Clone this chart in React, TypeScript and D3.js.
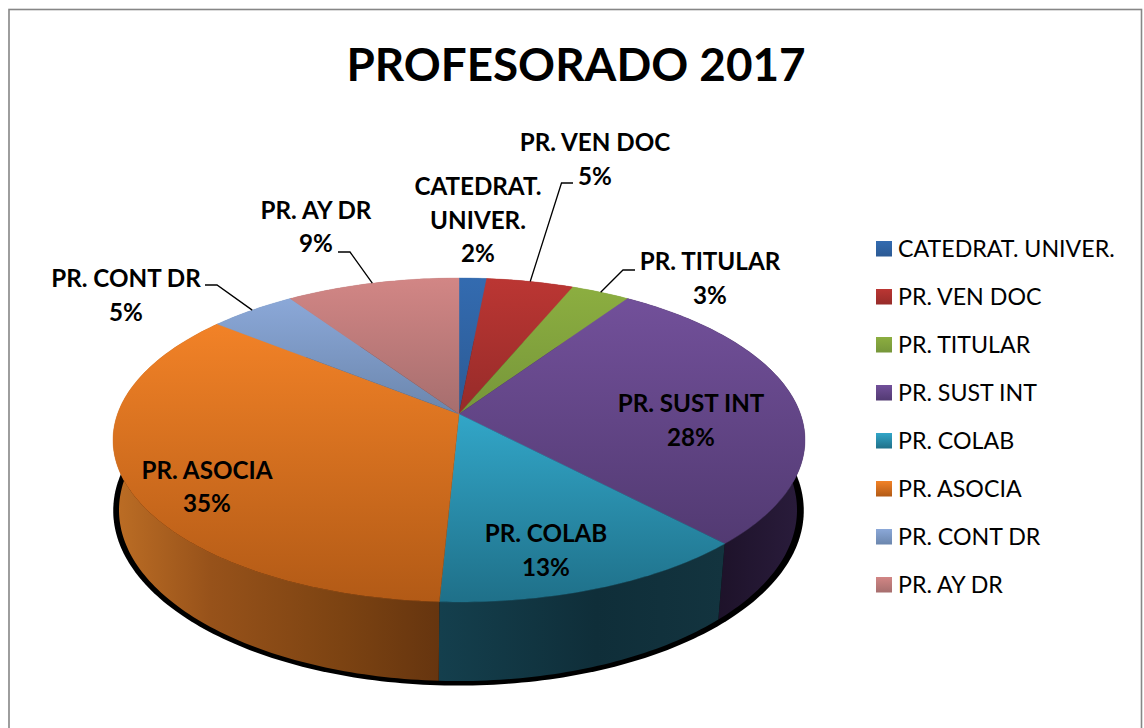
import React from "react";
import * as d3 from "d3";

const titleText = "PROFESORADO 2017";
const categories = ["CATEDRAT. UNIVER.", "PR. VEN DOC", "PR. TITULAR", "PR. SUST INT", "PR. COLAB", "PR. ASOCIA", "PR. CONT DR", "PR. AY DR"];
const values = [1.5, 4.75, 3.2, 28.49, 12.83, 35.02, 4.75, 9.46];
const percents = ["2%", "5%", "3%", "28%", "13%", "35%", "5%", "9%"];
const labelLines = [["CATEDRAT.", "UNIVER."], ["PR. VEN DOC"], ["PR. TITULAR"], ["PR. SUST INT"], ["PR. COLAB"], ["PR. ASOCIA"], ["PR. CONT DR"], ["PR. AY DR"]];
const topFrom = ["#336bb0", "#bb3633", "#8cae40", "#72509a", "#32a6c8", "#f28227", "#8ba8d8", "#d28685"];
const topTo = ["#2c5a94", "#962b29", "#76963a", "#523a72", "#1f7089", "#b25a16", "#6b86ad", "#a66e6e"];

// Layout (not data)
const labelPos = [[478, 195], [595, 151], [710, 270], [691, 412], [546, 542], [207, 478.5], [126, 287], [316, 218.5]];
const leaderKnee: (number[] | null)[] = [null, [561.5, 183, 573], [623, 270, 635], null, null, null, [217, 285, 205], [350, 252, 338]];
const FONT = "Lato, Carlito, sans-serif";
const K = 0.1605;
type Plane = { ax: number; ay: number; a: number; b: number };
const topPlane: Plane = { ax: 459, ay: 414, a: 341.5, b: 157.8 };
const rimPlane: Plane = { ax: 458, ay: 482.6, a: 334.6, b: 166.6 };
const shadowPlane: Plane = { ax: 458.5, ay: 482.6, a: 340.8, b: 170.4 };

const project = (p: Plane, t: number): [number, number] => {
  const X = Math.sin(t), Y = -Math.cos(t), d = 1 - K * Y;
  return [p.ax + (p.a * X) / d, p.ay + (p.b * Y) / d];
};
const arcPts = (p: Plane, a0: number, a1: number) => {
  const n = Math.max(2, Math.ceil(((a1 - a0) / (Math.PI * 2)) * 360));
  return d3.range(n + 1).map((i) => project(p, a0 + ((a1 - a0) * i) / n));
};
const line = d3.line<[number, number]>().x((d) => d[0]).y((d) => d[1]);

const arcs = d3.pie<number>().sort(null).startAngle(0).endAngle(Math.PI * 2)(values);

const wallStops: Record<number, [number, string][]> = {
  3: [[0, "#261a36"], [0.5, "#1d1229"], [1, "#2a1c3c"]],
  4: [[0, "#143f4d"], [0.55, "#0f2e39"], [1, "#13343f"]],
  5: [[0, "#bd6e25"], [0.3, "#97521a"], [0.7, "#7c4312"], [1, "#66350f"]],
};

export default function App() {
  return (
    <svg width={1144} height={728} style={{ position: "absolute", left: 0, top: 0, display: "block" }} fontFamily={FONT}>
      <defs>
        {categories.map((c, i) => (
          <linearGradient key={c} id={`top${i}`} x1="0" y1="0" x2="0" y2="1">
            <stop offset="0" stopColor={topFrom[i]} />
            <stop offset="1" stopColor={topTo[i]} />
          </linearGradient>
        ))}
        {arcs.map((s, i) => {
          const stops = wallStops[i] || [[0, topTo[i]], [1, topTo[i]]];
          const xs = arcPts(topPlane, s.startAngle, s.endAngle).map((d) => d[0]);
          const lo = i === 5 ? 113 : d3.min(xs)!;
          const hi = i === 3 ? 804 : d3.max(xs)!;
          return (
            <linearGradient key={i} id={`wall${i}`} gradientUnits="userSpaceOnUse" x1={lo} y1="0" x2={hi} y2="0">
              {stops.map(([o, col]) => <stop key={o} offset={o} stopColor={col} />)}
            </linearGradient>
          );
        })}
      </defs>
      <rect x={9} y={9.5} width={1132.5} height={760} fill="#ffffff" stroke="#868686" strokeWidth={1.6} />
      <text x={576} y={81} textAnchor="middle" fontSize={45.8} fontWeight={700} fill="#000">{titleText}</text>

      <path d={line(arcPts(shadowPlane, 0, Math.PI * 2))! + "Z"} fill="#000" />
      {arcs.map((s, i) => {
        const a = arcPts(topPlane, s.startAngle, s.endAngle);
        const b = arcPts(rimPlane, s.startAngle, s.endAngle).reverse();
        return <path key={i} d={line([...a, ...b])! + "Z"} fill={`url(#wall${i})`} />;
      })}
      {arcs.map((s, i) => {
        const pts: [number, number][] = [[topPlane.ax, topPlane.ay], ...arcPts(topPlane, s.startAngle, s.endAngle)];
        return <path key={i} d={line(pts)! + "Z"} fill={`url(#top${i})`} stroke={`url(#top${i})`} strokeWidth={0.4} />;
      })}

      {arcs.map((s, i) => {
        const knee = leaderKnee[i];
        if (!knee) return null;
        const start = project(topPlane, (s.startAngle + s.endAngle) / 2);
        return (
          <polyline key={i} points={`${start[0]},${start[1]} ${knee[0]},${knee[1]} ${knee[2]},${knee[1]}`} fill="none" stroke="#000" strokeWidth={1.3} />
        );
      })}

      {categories.map((c, i) => {
        const [x, y] = labelPos[i];
        const lines = [...labelLines[i], percents[i]];
        return (
          <text key={c} textAnchor="middle" fontSize={24.2} fontWeight={700} fill="#000">
            {lines.map((t, j) => <tspan key={j} x={x} y={y + j * 33.5}>{t}</tspan>)}
          </text>
        );
      })}

      {categories.map((c, i) => {
        const y = 241 + i * 48;
        return (
          <g key={c}>
            <rect x={876} y={y} width={16} height={15.5} fill={`url(#top${i})`} />
            <text x={898} y={y + 15.5} fontSize={23.2} fill="#000">{c}</text>
          </g>
        );
      })}
    </svg>
  );
}
